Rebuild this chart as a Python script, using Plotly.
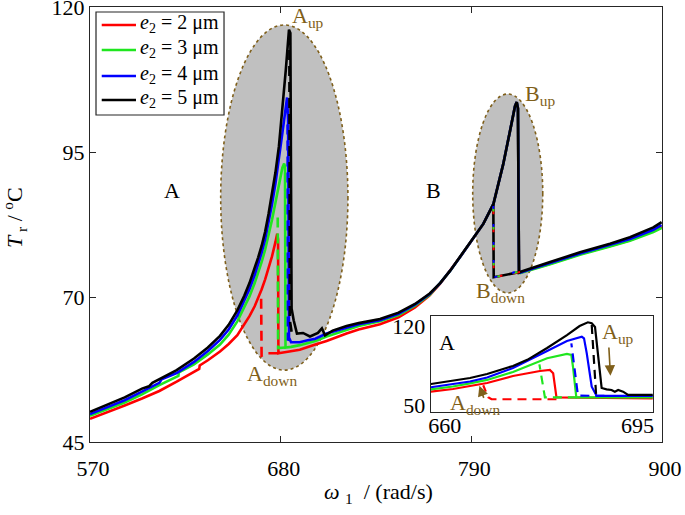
import plotly.graph_objects as go

# ---------------- main chart data (omega_1 in rad/s, T_r in deg C) ----------------
# common right-hand part (between the two resonances and through B)
w_mid = [725, 737.3, 748, 757.5, 766, 772, 777.7, 783.5, 789.2, 796.9, 802.7, 808.4, 812.3, 815.2, 816.2, 816.9, 817.5, 818.1, 835, 852.7, 870, 881.5, 895, 899.8]
T_mid_blk = [65.5, 66.2, 67.3, 68.8, 70.6, 72.4, 74.5, 76.9, 79.3, 82.6, 86.0, 92.9, 98.6, 102.9, 103.6, 102.5, 74.2, 74.3, 76.0, 77.7, 79.2, 80.3, 82.0, 82.9]
T_mid_blu = [65.3, 66.0, 67.1, 68.7, 70.5, 72.4, 74.5, 76.9, 79.3, 82.6, 86.0, 92.9, 98.6, 102.9, 103.6, 102.5, 74.2, 74.2, 75.8, 77.5, 79.0, 80.0, 81.6, 82.4]
T_mid_grn = [65.0, 65.8, 66.9, 68.5, 70.4, 72.4, 74.5, 76.9, 79.3, 82.6, 86.0, 92.9, 98.6, 102.9, 103.6, 102.5, 74.2, 74.1, 75.6, 77.3, 78.7, 79.7, 81.2, 81.9]
T_mid_red = [64.4, 65.3, 66.5, 68.2, 70.3, 72.3, 74.5, 76.9, 79.3, 82.6, 86.0, 92.9, 98.6, 102.9, 103.6, 102.5, 74.2, 74.2, 75.7, 77.4, 78.8, 79.8, 81.4, 82.1]

# up-sweep (solid) branches around resonance A
w_blk_A = [570, 580, 590, 600, 604, 606, 610, 620, 630, 638, 645, 650, 655, 659, 662, 665, 667, 669, 671, 673, 675, 677, 679, 681, 683, 684.8,
           685.6, 686.3, 687.5, 689.4, 692.9, 696.9, 701.5, 703.8, 705.6, 710, 718]
T_blk_A = [50.2, 51.4, 52.7, 54.2, 54.6, 55.2, 55.8, 57.4, 59.4, 61.3, 63.3, 65.2, 67.7, 70.2, 72.4, 74.9, 76.8, 78.8, 81.2, 84.3, 87.8, 91.5, 96.0, 102.0, 109.3, 116.1,
           115.5, 68.0, 66.0, 63.7, 63.8, 63.2, 63.8, 64.6, 63.4, 64.2, 65.0]
w_blu_A = [570, 580, 590, 600, 610, 611.3, 620, 630, 638, 645, 650, 655, 659, 662, 665, 667, 669, 671, 673, 675, 677, 679, 681, 683, 683.7,
           684.3, 684.8, 686, 691, 695, 700, 706.5, 718]
T_blu_A = [49.8, 51.0, 52.2, 53.7, 55.2, 55.8, 56.9, 58.8, 60.7, 62.6, 64.4, 66.8, 69.3, 71.4, 73.8, 75.6, 77.6, 79.9, 82.8, 86.0, 89.6, 93.6, 98.3, 102.8, 104.4,
           100.5, 63.0, 62.2, 62.2, 62.5, 62.8, 63.7, 64.7]
w_grn_A = [570, 580, 590, 600, 610, 621, 621.3, 630, 638, 645, 650, 655, 659, 662, 665, 667, 669, 671, 673, 675, 677, 679, 681, 682,
           682.5, 682.8, 686, 691, 700, 706.5, 718]
T_grn_A = [49.5, 50.6, 51.8, 53.2, 54.8, 56.4, 57.0, 58.4, 60.1, 61.8, 63.5, 65.8, 68.1, 70.1, 72.4, 74.1, 76.0, 78.1, 80.6, 83.3, 86.3, 89.4, 92.3, 93.0,
           92.6, 61.3, 61.4, 61.7, 62.4, 63.2, 64.3]
w_red_A = [570, 580, 590, 600, 610, 620, 633, 633.3, 638, 645, 650, 655, 659, 662, 665, 667, 669, 671, 673, 675, 677, 678,
           678.5, 678.7, 685, 691, 700, 706.5, 718]
T_red_A = [49.0, 50.1, 51.3, 52.5, 53.8, 55.4, 57.6, 58.2, 59.1, 60.6, 61.9, 63.4, 65.2, 66.7, 68.4, 69.8, 71.3, 73.0, 75.0, 77.0, 79.5, 80.9,
           80.0, 60.3, 60.6, 60.9, 61.8, 62.4, 63.7]

# down-sweep (dashed) jumps
w_red_dn = [678.7, 672.7, 669.0, 668.7]
T_red_dn = [60.3, 60.3, 59.9, 70.5]
w_grn_dn = [682.8, 678.5, 678.3]
T_grn_dn = [61.3, 61.2, 84.0]
w_blu_dn = [684.8, 684.2, 684.0]
T_blu_dn = [62.8, 62.5, 100.0]
w_blk_dn = [686.3, 685.3, 685.0]
T_blk_dn = [64.0, 66.0, 115.5]
w_B_dn = [818.1, 810.0, 802.9, 802.7]
T_B_dn = [74.3, 73.8, 73.4, 86.0]

# ---------------- inset data (zoom on A) ----------------
wi_blk = [657.5, 661.5, 664.6, 667.7, 672.4, 675.0, 678.6, 682.2, 684.5, 686.0, 686.7, 687.3, 687.8, 688.5, 689.4, 690.3, 690.9, 691.5, 692.4, 693.3, 697.8]
Ti_blk = [68.6, 71.3, 73.9, 77.5, 84.6, 90.0, 100.5, 112.0, 120.0, 123.3, 122.4, 119.1, 98.7, 65.1, 63.9, 63.3, 61.8, 63.3, 61.8, 58.9, 58.9]
wi_blu = [657.5, 661.5, 664.6, 667.7, 672.4, 678.6, 682.2, 684.9, 685.3, 685.8, 686.7, 687.6, 697.8]
Ti_blu = [65.7, 68.2, 70.8, 74.4, 82.8, 97.9, 106.7, 110.5, 109.1, 95.8, 66.2, 58.0, 58.0]
wi_grn = [657.5, 661.5, 664.6, 667.7, 672.4, 678.6, 682.2, 683.0, 683.3, 683.9, 697.8]
Ti_grn = [63.9, 66.4, 69.1, 72.2, 79.3, 91.4, 95.2, 94.3, 83.9, 56.8, 56.8]
wi_red = [657.5, 661.5, 664.6, 667.7, 672.4, 677.3, 679.1, 679.7, 680.3, 697.8]
Ti_red = [61.8, 64.2, 66.8, 69.5, 75.7, 80.1, 81.0, 78.1, 56.8, 55.9]
wi_blk_dn = [686.7, 687.5]
Ti_blk_dn = [120.9, 58.9]
wi_blu_dn = [689.0, 684.2, 683.0]
Ti_blu_dn = [58.0, 58.3, 104.7]
wi_grn_dn = [684.0, 678.2, 677.2]
Ti_grn_dn = [56.8, 56.8, 86.0]
wi_red_dn = [680.3, 668.5, 667.9, 667.0]
Ti_red_dn = [55.1, 55.1, 56.8, 67.5]

e2_values = [2, 3, 4, 5]
x_ticks = [570, 680, 790, 900]
y_ticks = [45, 70, 95, 120]
xi_ticks = [660, 695]
yi_ticks = [50, 120]

names = ["<i>e</i><sub>2</sub> = %d μm" % v for v in e2_values]

RED, GRN, BLU, BLK = "#ff0000", "#1fe61f", "#0000ff", "#000000"
COLORS = [RED, GRN, BLU, BLK]
BROWN = "#7f5f1a"
FONT = "Liberation Serif"
LW = 2.6
DASH = "10px,6px"

fig = go.Figure()

solids = [
    (w_red_A + w_mid, T_red_A + T_mid_red),
    (w_grn_A + w_mid, T_grn_A + T_mid_grn),
    (w_blu_A + w_mid, T_blu_A + T_mid_blu),
    (w_blk_A + w_mid, T_blk_A + T_mid_blk),
]
for (w, T), c, n in zip(solids, COLORS, names):
    fig.add_trace(go.Scatter(x=w, y=T, mode="lines", name=n, showlegend=False,
                             line=dict(color=c, width=LW)))

# B jump: black underneath, colored dashes on top
fig.add_trace(go.Scatter(x=w_B_dn, y=T_B_dn, mode="lines", showlegend=False,
                         line=dict(color=BLK, width=LW)))
for c, off, pat in [(RED, 0.0, "7px,11px"), (GRN, 1.5, "4px,14px"), (BLU, 3.0, "3px,15px")]:
    fig.add_trace(go.Scatter(x=[w_B_dn[0] - off] + w_B_dn[1:], y=T_B_dn, mode="lines",
                             showlegend=False, line=dict(color=c, width=2.0, dash=pat)))

dashed = [(w_red_dn, T_red_dn), (w_grn_dn, T_grn_dn), (w_blu_dn, T_blu_dn), (w_blk_dn, T_blk_dn)]
for (w, T), c in zip(dashed, COLORS):
    fig.add_trace(go.Scatter(x=w, y=T, mode="lines", showlegend=False,
                             line=dict(color=c, width=LW, dash=DASH)))

# inset traces
ins = [(wi_red, Ti_red), (wi_grn, Ti_grn), (wi_blu, Ti_blu), (wi_blk, Ti_blk)]
for (w, T), c in zip(ins, COLORS):
    fig.add_trace(go.Scatter(x=w, y=T, mode="lines", showlegend=False, xaxis="x2", yaxis="y2",
                             line=dict(color=c, width=2.2)))
ins_dn = [(wi_red_dn, Ti_red_dn), (wi_grn_dn, Ti_grn_dn), (wi_blu_dn, Ti_blu_dn), (wi_blk_dn, Ti_blk_dn)]
for (w, T), c in zip(ins_dn, COLORS):
    fig.add_trace(go.Scatter(x=w, y=T, mode="lines", showlegend=False, xaxis="x2", yaxis="y2",
                             line=dict(color=c, width=2.2, dash="9px,6px")))

# ellipses
for x0, x1, y0, y1 in [(645.4, 718.8, 57.4, 116.9), (790.8, 831.2, 70.7, 105.0)]:
    fig.add_shape(type="circle", xref="x", yref="y", x0=x0, x1=x1, y0=y0, y1=y1,
                  fillcolor="#c0c0c0", line=dict(color=BROWN, width=1.6, dash="dot"),
                  layer="below")

# legend box (paper coordinates)
fig.add_shape(type="rect", xref="paper", yref="paper", x0=0.0105, x1=0.2343, y0=0.7517, y1=0.9885,
              fillcolor="white", line=dict(color="#262626", width=1.2), layer="above")
leg_rows = [0.9586, 0.9011, 0.8414, 0.7862]
ann = []
for ry, c, n in zip(leg_rows, COLORS, names):
    fig.add_shape(type="line", xref="paper", yref="paper", x0=0.0205, x1=0.0804, y0=ry, y1=ry,
                  line=dict(color=c, width=LW), layer="above")
    ann.append(dict(x=0.0839, y=ry + 0.003, xref="paper", yref="paper", text=n, showarrow=False,
                    xanchor="left", yanchor="middle", font=dict(family=FONT, size=20, color="black")))

def txt(x, y, t, color=BROWN, size=22, xref="x", yref="y"):
    ann.append(dict(x=x, y=y, xref=xref, yref=yref, text=t, showarrow=False,
                    xanchor="center", yanchor="middle",
                    font=dict(family=FONT, size=size, color=color)))

txt(617.3, 88.4, "A", color="black")
txt(767.9, 88.4, "B", color="black")
txt(695.8, 118.2, "A<sub>up</sub>")
txt(675.0, 56.6, "A<sub>down</sub>")
txt(829.6, 104.8, "B<sub>up</sub>")
txt(807.1, 70.9, "B<sub>down</sub>")
# inset labels
txt(660.5, 105.0, "A", color="black", size=22, xref="x2", yref="y2")
txt(691.4, 113.5, "A<sub>up</sub>", xref="x2", yref="y2")
txt(665.5, 50.5, "A<sub>down</sub>", xref="x2", yref="y2")
ann.append(dict(x=690.1, y=76.0, ax=689.8, ay=102.3, xref="x2", yref="y2", axref="x2", ayref="y2",
                text="", showarrow=True, arrowhead=2, arrowsize=1.3, arrowwidth=1.6, arrowcolor=BROWN))
ann.append(dict(x=666.3, y=67.0, ax=667.2, ay=55.0, xref="x2", yref="y2", axref="x2", ayref="y2",
                text="", showarrow=True, arrowhead=2, arrowsize=1.3, arrowwidth=1.6, arrowcolor=BROWN))
# axis titles
ann.append(dict(x=0.5035, y=-0.117, xref="paper", yref="paper", showarrow=False,
                xanchor="center", yanchor="middle",
                text="<i>ω</i>\u00a0<sub>1</sub>\u00a0\u00a0/ (rad/s)", font=dict(family=FONT, size=22, color="black")))
ann.append(dict(x=-0.131, y=0.515, xref="paper", yref="paper", showarrow=False, textangle=-90,
                xanchor="center", yanchor="middle",
                text="<i>T</i><sub>\u00a0r</sub> / <sup>o</sup>C", font=dict(family=FONT, size=22, color="black")))

axis_common = dict(showline=True, linecolor="#262626", linewidth=1.3, mirror="ticks",
                   ticks="inside", ticklen=6, tickcolor="#262626", showgrid=False, zeroline=False,
                   ticklabeloverflow="allow", automargin=False,
                   tickfont=dict(family=FONT, size=22, color="black"))
inset_common = dict(showline=True, linecolor="#262626", linewidth=1.3, mirror=True, ticks="",
                    showgrid=False, zeroline=False, automargin=False,
                    tickfont=dict(family=FONT, size=22, color="black"))

fig.update_layout(
    width=685, height=515,
    margin=dict(l=90, r=23, t=7, b=73, autoexpand=False),
    paper_bgcolor="white", plot_bgcolor="white",
    font=dict(family=FONT, size=20, color="black"),
    xaxis=dict(range=[570, 900], tickvals=x_ticks, ticklabelstandoff=6, ticklabelshift=3, **axis_common),
    yaxis=dict(range=[45, 120], tickvals=y_ticks, **axis_common),
    xaxis2=dict(domain=[0.596, 0.984], anchor="y2", range=[657.5, 697.8], tickvals=xi_ticks,
                ticklabelstandoff=-7, **inset_common),
    yaxis2=dict(domain=[0.069, 0.2897], anchor="x2", range=[43.8, 128.9], tickvals=yi_ticks, **inset_common),
    annotations=ann,
    showlegend=False,
)

fig.write_html("out.html", config={"displayModeBar": False},
               post_script="document.body.style.margin='0px';")
